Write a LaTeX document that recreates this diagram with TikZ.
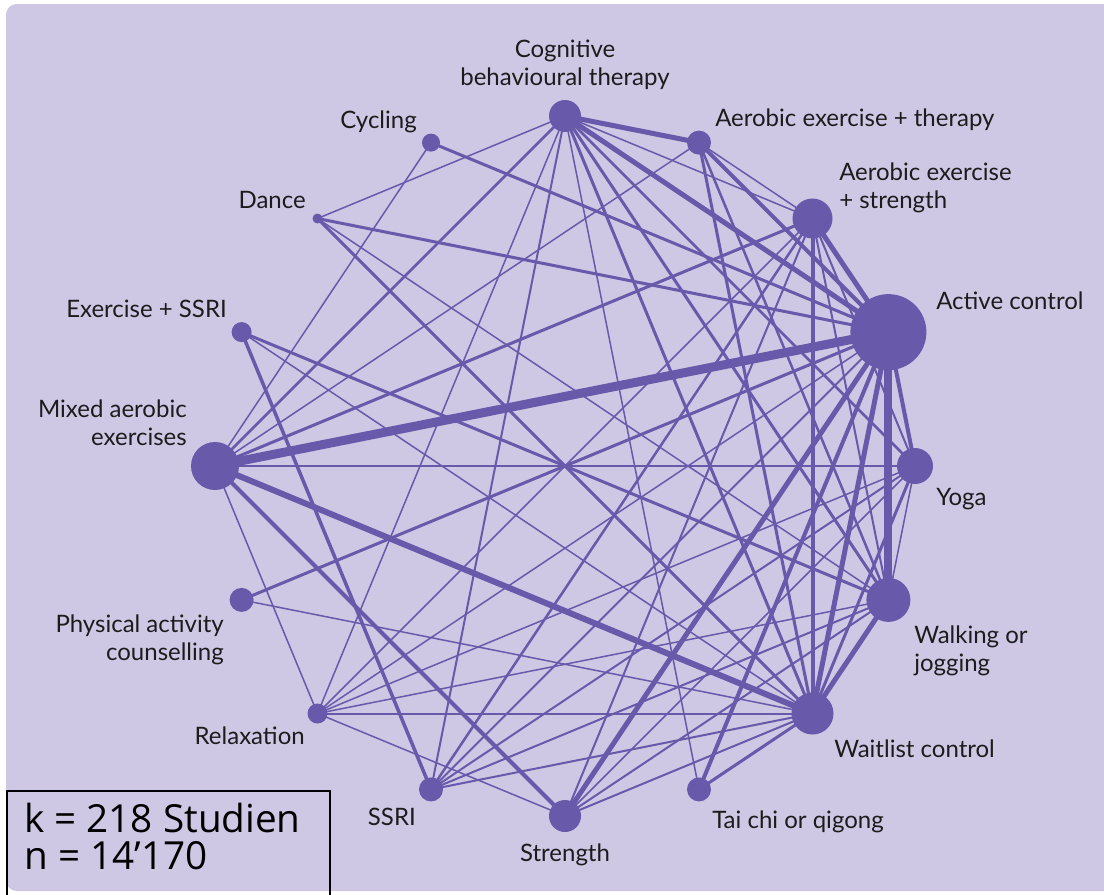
\documentclass[tikz,border=0pt]{standalone}
\usepackage{fontspec}
\setmainfont{Lato}
\newfontfamily\statfont{Open Sans}
\definecolor{lav}{RGB}{206,200,229}
\definecolor{pur}{RGB}{105,89,170}
\definecolor{ink}{RGB}{28,28,28}
\pgfdeclarelayer{bg}
\pgfdeclarelayer{links}
\pgfsetlayers{bg,links,main}
\begin{document}
\begin{tikzpicture}[x=0.75pt,y=-0.75pt,
  dot/.style={circle,fill=pur,draw=none,inner sep=0pt,minimum size=#1*1.5pt},
  lnk/.style={draw=pur,line width=#1*0.75pt},
  lbl/.style={text=ink,font=\fontsize{18}{21}\selectfont,inner sep=0pt},
]
\useasboundingbox (0,0) rectangle (1104,894);
\begin{pgfonlayer}{bg}
  \fill[white] (0,0) rectangle (1104,894);
  \fill[lav,rounded corners=8pt] (6,4) rectangle (1124,891);
\end{pgfonlayer}

% treatments, evenly spaced on a circle (centre 565,466; radius 350)
\node[dot=16] (cbt)   at (565.0,116.0) {};
\node[dot=12] (aet)   at (699.0,142.6) {};
\node[dot=20] (aes)   at (812.5,218.5) {};
\node[dot=38] (ac)    at (888.4,332.1) {};
\node[dot=18] (yoga)  at (915.0,466.0) {};
\node[dot=22] (wj)    at (888.4,599.9) {};
\node[dot=21] (wl)    at (812.5,713.5) {};
\node[dot=12] (tc)    at (699.0,789.4) {};
\node[dot=16] (str)   at (565.0,816.0) {};
\node[dot=12] (ssri)  at (431.0,789.4) {};
\node[dot=10] (rel)   at (317.5,713.5) {};
\node[dot=12] (pac)   at (241.6,599.9) {};
\node[dot=24] (mixed) at (215.0,466.0) {};
\node[dot=10] (exs)   at (241.6,332.1) {};
\node[dot=5]  (dance) at (317.5,218.5) {};
\node[dot=9]  (cyc)   at (431.0,142.6) {};

% direct comparisons, width ~ number of studies
\begin{pgfonlayer}{links}
\foreach \a/\b/\w in {
  cbt/aet/5, cbt/aes/1.5, cbt/ac/5, cbt/yoga/2.5, cbt/wj/3, cbt/wl/3,
  cbt/tc/1.5, cbt/ssri/2, cbt/rel/1.5, cbt/mixed/2.5, cbt/dance/1.5,
  aet/aes/1.5, aet/ac/4, aet/wj/2.5, aet/wl/3, aet/mixed/1.5,
  aes/ac/5, aes/wl/4, aes/wj/2, aes/yoga/2, aes/mixed/3, aes/rel/1.5,
  aes/ssri/2.5, aes/str/2,
  ac/yoga/4, ac/wj/8, ac/wl/5, ac/tc/4, ac/str/5, ac/ssri/2, ac/rel/1.5,
  ac/pac/3, ac/mixed/9, ac/dance/3, ac/cyc/3,
  yoga/wj/1.5, yoga/wl/3, yoga/mixed/1.5, yoga/rel/1.5, yoga/ssri/2,
  wj/wl/5, wj/exs/3, wj/dance/1.5, wj/rel/1.5, wj/ssri/2, wj/str/2,
  wl/tc/3, wl/str/2, wl/rel/2, wl/mixed/6, wl/pac/1.5, wl/exs/1.5,
  wl/dance/3, wl/ssri/2,
  str/mixed/4, str/rel/1.5, str/yoga/1.5,
  ssri/exs/3.5, mixed/rel/1.5, mixed/cyc/1.5}
  \draw[lnk=\w] (\a.center) -- (\b.center);
\end{pgfonlayer}

% labels (multi-line nodes sit on the baseline of their last line)
\node[lbl,align=center,anchor=base] (lcbt) at (565,85) {Cognitive\\behavioural therapy};
\node[lbl,anchor=base west] (laet) at (715,126) {Aerobic exercise + therapy};
\node[lbl,align=left,anchor=base west] (laes) at (839,208) {Aerobic exercise\\+ strength};
\node[lbl,anchor=base west] (lac) at (936,309) {Active control};
\node[lbl,anchor=base west] (lyoga) at (936,505) {Yoga};
\node[lbl,align=left,anchor=base west] (lwj) at (914,671) {Walking or\\jogging};
\node[lbl,anchor=base west] (lwl) at (834,757) {Waitlist control};
\node[lbl,anchor=base west] (ltc) at (712,828) {Tai chi or qigong};
\node[lbl,anchor=base] (lstr) at (565,861) {Strength};
\node[lbl,anchor=base east] (lssri) at (416,825) {SSRI};
\node[lbl,anchor=base east] (lrel) at (305,744) {Relaxation};
\node[lbl,align=right,anchor=base east] (lpac) at (224,660) {Physical activity\\counselling};
\node[lbl,align=right,anchor=base east] (lmixed) at (187,445) {Mixed aerobic\\exercises};
\node[lbl,anchor=base east] (lexs) at (227,317) {Exercise + SSRI};
\node[lbl,anchor=base east] (ldance) at (306,208) {Dance};
\node[lbl,anchor=base east] (lcyc) at (417,128) {Cycling};

% study counts
\draw[black,line width=1.5pt] (6.5,900) |- (329.5,791) -- (329.5,900);
\node[anchor=base west,align=left,inner sep=0pt,text=black,
      font=\statfont\fontsize{29}{27.75}\selectfont] (stats) at (24,869)
  {k = 218 Studien\\n = 14’170};
\end{tikzpicture}
\end{document}
